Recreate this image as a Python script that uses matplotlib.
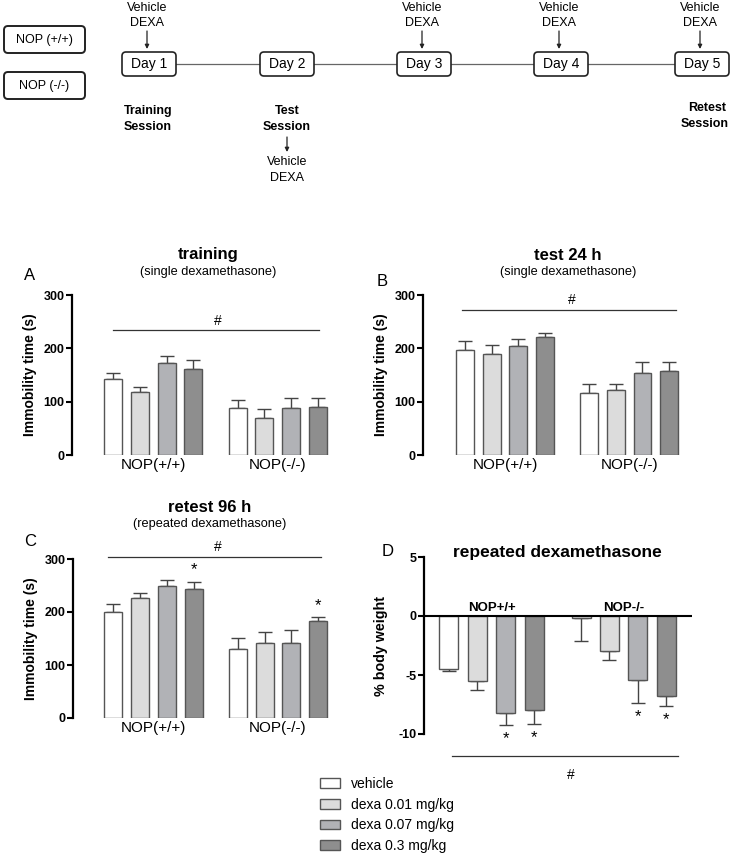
import numpy as np
import matplotlib
matplotlib.use("Agg")
import matplotlib.pyplot as plt
from matplotlib.patches import FancyBboxPatch, Patch

plt.rcParams['font.family'] = ['Liberation Sans', 'DejaVu Sans']
plt.rcParams['axes.unicode_minus'] = False

# ---- data ----
groups = ["NOP(+/+)", "NOP(-/-)"]
treatments = ["vehicle", "dexa 0.01 mg/kg", "dexa 0.07 mg/kg", "dexa 0.3 mg/kg"]

train_mean = [142, 118, 172, 161, 89, 69, 89, 90]
train_sem = [11, 10, 13, 17, 14, 18, 17, 16]

test_mean = [197, 189, 204, 221, 117, 122, 154, 157]
test_sem = [17, 17, 14, 7, 16, 12, 20, 17]

retest_mean = [200, 226, 249, 243, 130, 142, 142, 183]
retest_sem = [15, 9, 11, 14, 21, 21, 24, 7]
retest_star = [3, 7]

weight_mean = [-4.48, -5.55, -8.23, -8.0, -0.17, -2.99, -5.46, -6.79]
weight_sem = [0.22, 0.73, 1.01, 1.15, 1.91, 0.78, 1.92, 0.87]
weight_star = [2, 3, 6, 7]

days = ["Day 1", "Day 2", "Day 3", "Day 4", "Day 5"]
dosed_days = [0, 2, 3, 4]

fills = ['white', '#dcdcdc', '#b1b2b6', '#8e8e8e']
edge = '#555555'

W, H = 731, 856
fig = plt.figure(figsize=(W / 100, H / 100), dpi=100)


def axes_px(left, top, right, bottom):
    return fig.add_axes([left / W, 1 - bottom / H, (right - left) / W, (bottom - top) / H])


def ftext(x, y, s, **kw):
    fig.text(x / W, 1 - y / H, s, **kw)


xpos = np.array([0, 1, 2, 3, 4.65, 5.65, 6.65, 7.65])
cols = fills * 2


def bar_panel(ax, mean, sem, down=False):
    ax.bar(xpos, mean, width=0.67, color=cols, edgecolor=edge, linewidth=1, zorder=2)
    z = np.zeros(len(mean))
    err = [sem, z] if down else [z, sem]
    ax.errorbar(xpos, mean, yerr=err, fmt='none', ecolor='#444444', elinewidth=1,
                capsize=5, capthick=1, zorder=1)
    for s in ['top', 'right', 'bottom']:
        ax.spines[s].set_visible(False)
    ax.spines['left'].set_linewidth(1.6)
    ax.tick_params(axis='y', width=1.5, length=4, labelsize=9, pad=1.5)
    for t in ax.get_yticklabels():
        t.set_fontweight('bold')


def immob_panel(ax, mean, sem, xlim):
    ax.set_xlim(*xlim)
    ax.set_ylim(0, 300)
    ax.set_yticks([0, 100, 200, 300])
    bar_panel(ax, mean, sem)
    ax.set_xticks([1.5, 6.15])
    ax.set_xticklabels(groups, fontsize=11)
    ax.tick_params(axis='x', length=0, pad=2)
    ax.set_ylabel("Immobility time (s)", fontsize=10, fontweight='bold')
    ax.yaxis.set_label_coords(-0.13, 0.5)


# ---- A ----
axA = axes_px(72, 295, 340, 455)
immob_panel(axA, train_mean, train_sem, (-1.53, 8.47))
axA.plot([0, 7.7], [234, 234], color='#333333', lw=0.9, clip_on=False)
axA.text(3.9, 252, "#", ha='center', va='center', fontsize=10)
ftext(208, 254, "training", ha='center', va='center', fontsize=12, fontweight='bold')
ftext(208, 272, "(single dexamethasone)", ha='center', va='center', fontsize=9.2)
ftext(30, 276, "A", ha='center', va='center', fontsize=12)

# ---- B ----
axB = axes_px(423, 295, 690, 455)
immob_panel(axB, test_mean, test_sem, (-1.57, 8.43))
axB.plot([-0.1, 7.9], [272, 272], color='#333333', lw=0.9, clip_on=False)
axB.text(4.0, 291, "#", ha='center', va='center', fontsize=10)
ftext(568, 255, "test 24 h", ha='center', va='center', fontsize=12, fontweight='bold')
ftext(568, 272, "(single dexamethasone)", ha='center', va='center', fontsize=9.2)
ftext(382, 281, "B", ha='center', va='center', fontsize=12)

# ---- C ----
axC = axes_px(73, 559, 341, 718)
immob_panel(axC, retest_mean, retest_sem, (-1.50, 8.5))
axC.plot([-0.2, 7.75], [304, 304], color='#333333', lw=0.9, clip_on=False)
axC.text(3.9, 323, "#", ha='center', va='center', fontsize=10, clip_on=False)
for i in retest_star:
    axC.text(xpos[i], retest_mean[i] + retest_sem[i] + 8, "*", ha='center',
             va='bottom', fontsize=12, clip_on=False)
ftext(210, 508, "retest 96 h", ha='center', va='center', fontsize=12, fontweight='bold')
ftext(210, 524, "(repeated dexamethasone)", ha='center', va='center', fontsize=9.2)
ftext(30, 542, "C", ha='center', va='center', fontsize=12)

# ---- D ----
axD = axes_px(424, 557, 692, 734)
axD.set_xlim(-0.87, 8.55)
axD.set_ylim(-10, 5)
axD.set_yticks([5, 0, -5, -10])
bar_panel(axD, weight_mean, weight_sem, down=True)
axD.set_xticks([])
axD.axhline(0, color='black', lw=1.5, zorder=3)
axD.set_ylabel("% body weight", fontsize=10.3, fontweight='bold')
axD.yaxis.set_label_coords(-0.135, 0.5)
axD.text(1.53, 0.15, "NOP+/+", ha='center', va='bottom', fontsize=9.5, fontweight='bold')
axD.text(6.16, 0.15, "NOP-/-", ha='center', va='bottom', fontsize=9.5, fontweight='bold')
for i in weight_star:
    axD.text(xpos[i], weight_mean[i] - weight_sem[i] - 0.5, "*", ha='center',
             va='top', fontsize=12, clip_on=False)
axD.plot([0.12, 8.07], [-11.83, -11.83], color='#333333', lw=0.9, clip_on=False)
axD.text(4.29, -13.5, "#", ha='center', va='center', fontsize=10, clip_on=False)
ftext(557, 552, "repeated dexamethasone", ha='center', va='center', fontsize=12.5, fontweight='bold')
ftext(388, 552, "D", ha='center', va='center', fontsize=12)

# ---- legend ----
handles = [Patch(facecolor=c, edgecolor=edge, linewidth=1) for c in fills]
fig.legend(handles, treatments, loc='upper left', bbox_to_anchor=(320 / W, 1 - 777 / H),
           frameon=False, fontsize=10, handlelength=1.45, handleheight=0.7,
           handletextpad=0.8, labelspacing=0.48, borderaxespad=0, borderpad=0)

# ---- timeline scheme ----
axT = fig.add_axes([0, 1 - 200 / H, 1, 200 / H])
axT.set_xlim(0, W)
axT.set_ylim(200, 0)
axT.axis('off')
tl_font = ['Liberation Sans Narrow', 'Liberation Sans']

day_left = [122, 260, 397, 534, 675]
day_w = 54
for i, lab in enumerate(days):
    if i < len(days) - 1:
        axT.plot([day_left[i] + day_w, day_left[i + 1]], [64, 64], color='#666666', lw=0.9)
for i, lab in enumerate(days):
    axT.add_patch(FancyBboxPatch((day_left[i], 52), day_w, 24,
                                 boxstyle='round,pad=0,rounding_size=4',
                                 facecolor='white', edgecolor='#222222', lw=1.2, zorder=3))
    axT.text(day_left[i] + day_w / 2, 64, lab, ha='center', va='center',
             fontsize=10, family=tl_font, zorder=4)

for lab, y in [("NOP (+/+)", 26), ("NOP (-/-)", 72)]:
    axT.add_patch(FancyBboxPatch((4, y), 81, 27, boxstyle='round,pad=0,rounding_size=4',
                                 facecolor='white', edgecolor='#222222', lw=1.4))
    axT.text(44, y + 13.5, lab, ha='center', va='center', fontsize=9, family=tl_font)

for i in dosed_days:
    cx = day_left[i] + day_w / 2 - 2
    axT.text(cx, 8, "Vehicle", ha='center', va='center', fontsize=9, family=tl_font)
    axT.text(cx, 23, "DEXA", ha='center', va='center', fontsize=9, family=tl_font)
    axT.annotate("", xy=(cx, 49), xytext=(cx, 31),
                 arrowprops=dict(arrowstyle='-|>', color='#222222', lw=0.9,
                                 mutation_scale=6, shrinkA=0, shrinkB=0))

axT.text(148, 111, "Training", ha='center', va='center', fontsize=9,
         fontweight='bold', family=tl_font)
axT.text(148, 127, "Session", ha='center', va='center', fontsize=9,
         fontweight='bold', family=tl_font)
axT.text(287, 111, "Test", ha='center', va='center', fontsize=9,
         fontweight='bold', family=tl_font)
axT.text(287, 127, "Session", ha='center', va='center', fontsize=9,
         fontweight='bold', family=tl_font)
axT.annotate("", xy=(287, 152), xytext=(287, 137),
             arrowprops=dict(arrowstyle='-|>', color='#222222', lw=0.9,
                             mutation_scale=6, shrinkA=0, shrinkB=0))
axT.text(287, 162, "Vehicle", ha='center', va='center', fontsize=9, family=tl_font)
axT.text(287, 178, "DEXA", ha='center', va='center', fontsize=9, family=tl_font)
axT.text(726, 108, "Retest", ha='right', va='center', fontsize=9,
         fontweight='bold', family=tl_font)
axT.text(729, 124, "Session", ha='right', va='center', fontsize=9,
         fontweight='bold', family=tl_font)

fig.savefig("out.png", dpi=100)
